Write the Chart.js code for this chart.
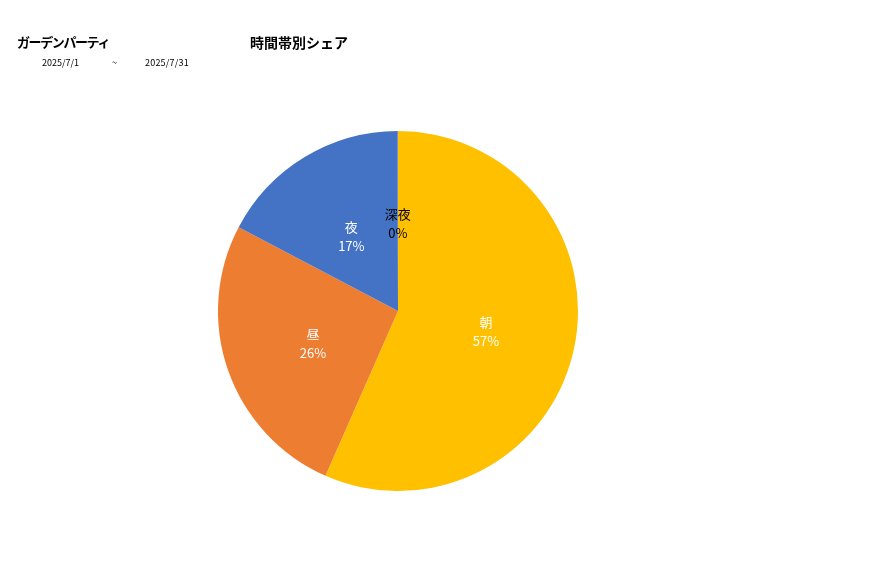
<!DOCTYPE html>
<html lang="ja">
<head>
<meta charset="utf-8">
<title>時間帯別シェア</title>
<script src="https://cdn.jsdelivr.net/npm/chart.js@4"></script>
<style>
  body { margin: 0; background: #fff; font-family: "Noto Sans CJK JP", "Noto Sans", sans-serif; }
  #wrap { position: relative; width: 877px; height: 578px; }
  #shareChart { position: absolute; left: 0; top: 0; }
  .txt { position: absolute; color: #000; white-space: nowrap; }
  .title { font-weight: bold; font-size: 14px; top: 32px; }
  .date { font-size: 9px; top: 56px; }
</style>
</head>
<body>
<div id="wrap">
  <canvas id="shareChart" width="877" height="578"></canvas>
  <div class="txt title" style="left:17px; font-size:13px; letter-spacing:-1.4px;">ガーデンパーティ</div>
  <div class="txt title" style="left:250px;">時間帯別シェア</div>
  <div class="txt date" style="left:42px;">2025/7/1</div>
  <div class="txt date" style="left:112px;">~</div>
  <div class="txt date" style="left:145px; letter-spacing:0.2px;">2025/7/31</div>
</div>
<script>
// 時間帯別シェア (in %)
const categories = ['朝', '昼', '夜', '深夜'];
const shareValues = [56.6, 26.1, 17.25, 0.05];
const sliceColors = ['#FFC000', '#ED7D31', '#4472C4', '#4472C4'];
const labelColors = ['#ffffff', '#ffffff', '#ffffff', '#000000'];

// draws "name / xx%" inside each slice
const sliceLabels = {
  id: 'sliceLabels',
  afterDatasetsDraw(chart) {
    const ctx = chart.ctx;
    const meta = chart.getDatasetMeta(0);
    const data = chart.data.datasets[0].data;
    const total = data.reduce((a, b) => a + b, 0);
    ctx.save();
    ctx.textAlign = 'center';
    ctx.textBaseline = 'middle';
    ctx.font = '13px "Noto Sans CJK JP", "Noto Sans", sans-serif';
    meta.data.forEach((arc, i) => {
      const pos = arc.tooltipPosition();
      const pct = Math.round(data[i] / total * 100);
      ctx.fillStyle = labelColors[i];
      ctx.fillText(chart.data.labels[i], pos.x, pos.y - 7);
      ctx.fillText(pct + '%', pos.x, pos.y + 12);
    });
    ctx.restore();
  }
};

document.addEventListener('DOMContentLoaded', function() {
  const ctx = document.getElementById('shareChart');
  new Chart(ctx.getContext('2d'), {
    type: 'pie',
    data: {
      labels: categories,
      datasets: [{
        data: shareValues,
        backgroundColor: sliceColors,
        borderWidth: 0
      }]
    },
    options: {
      responsive: false,
      animation: false,
      layout: {
        padding: { left: 218, right: 299, top: 131, bottom: 87 }
      },
      plugins: {
        legend: { display: false },
        tooltip: { enabled: false }
      }
    },
    plugins: [sliceLabels]
  });
});
</script>
</body>
</html>
